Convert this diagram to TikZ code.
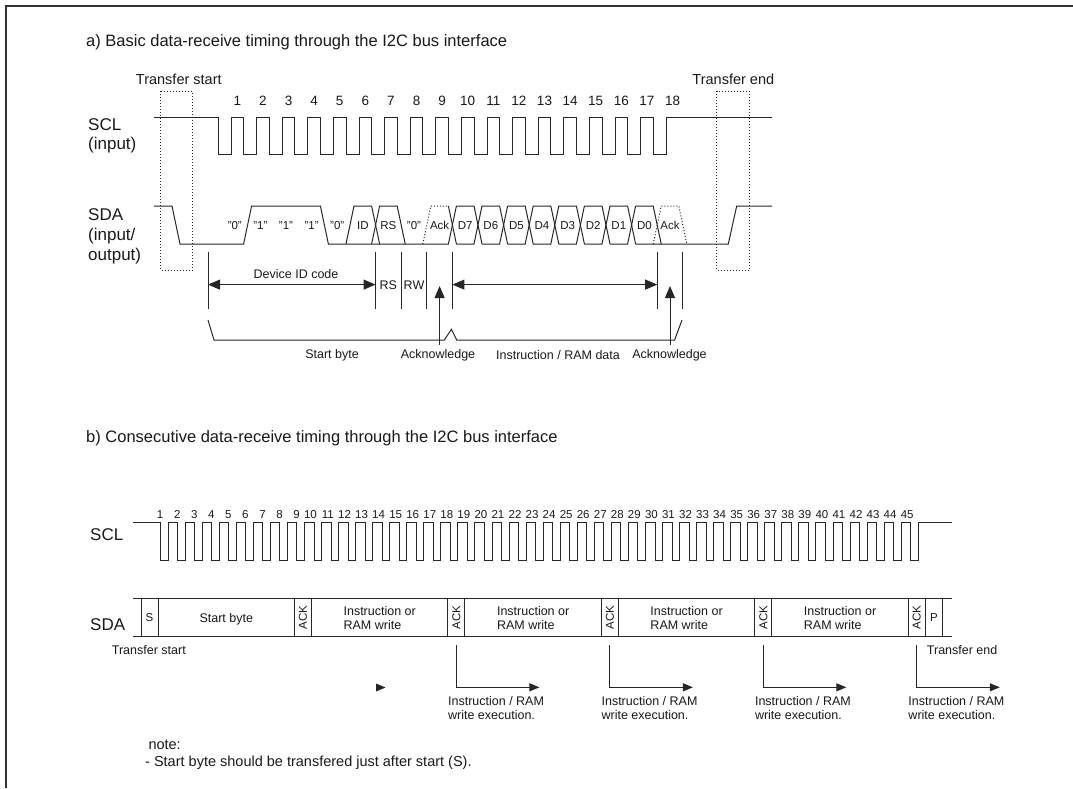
\documentclass[tikz,border=0pt]{standalone}
\usepackage{fontspec}
\setmainfont{Liberation Sans}
\usepackage{xcolor}
\usetikzlibrary{arrows.meta}
\tikzstyle{wave}=[-, draw=black!85, line width=1pt]
\tikzstyle{dot wave}=[-, draw=black!85, line width=1pt, dotted]
\tikzstyle{frame}=[-, draw=black!80, line width=1.5pt]
\tikzstyle{head}=[anchor=base west, inner sep=0pt, font=\fontsize{16.5}{19}\selectfont]
\tikzstyle{sig}=[anchor=base west, inner sep=0pt, font=\fontsize{17}{20}\selectfont]
\tikzstyle{num}=[anchor=base, inner sep=0pt, font=\fontsize{13.5}{16}\selectfont]
\tikzstyle{small num}=[anchor=base east, inner sep=0pt, font=\fontsize{11.5}{13}\selectfont]
\tikzstyle{bit}=[inner sep=0pt, font=\fontsize{11.5}{13}\selectfont]
\tikzstyle{lbl}=[inner sep=0pt, font=\fontsize{12.5}{14.5}\selectfont]
\tikzstyle{tag}=[anchor=base, inner sep=0pt, font=\fontsize{14.5}{17}\selectfont]
\tikzstyle{note}=[anchor=base west, inner sep=0pt, font=\fontsize{14.5}{17}\selectfont]
\tikzstyle{arrow edge}=[-{Triangle[length=12pt,width=10pt]}, draw=black!85, line width=1pt]
\tikzstyle{both edge}=[{Triangle[length=12pt,width=10pt]}-{Triangle[length=12pt,width=10pt]}, draw=black!85, line width=1pt]
\tikzstyle{exec edge}=[-{Triangle[length=10pt,width=8pt]}, draw=black!85, line width=1pt]
\pgfdeclarelayer{nodelayer}
\pgfdeclarelayer{edgelayer}
\pgfsetlayers{main,nodelayer,edgelayer}

\begin{document}
\begin{tikzpicture}[x=1pt, y=-1pt, text=black!90]
    	\useasboundingbox (0,0) rectangle (1073,788);
    	\begin{pgfonlayer}{nodelayer}
    		% part a
    		\node [style=head] (ta) at (86, 46) {a) Basic data-receive timing through the I2C bus interface};
    		\node [style=tag] (tstart) at (178.8, 84) {Transfer start};
    		\node [style=tag] (tend) at (733.3, 84) {Transfer end};
    		\node [style=sig] (scl) at (88, 130) {SCL};
    		\node [style=sig] (sclin) at (88, 149.5) {(input)};
    		\node [style=sig] (sda) at (88, 220) {SDA};
    		\node [style=sig] (sdain) at (88, 240) {(input/};
    		\node [style=sig] (sdaout) at (88, 260) {output)};
    		\foreach \k in {1,...,18}
    			\node [style=num] (n\k) at ({237.3+25.6*(\k-1)}, 105) {\k};
    		\foreach \t [count=\k from 0] in {"0","1","1","1","0",ID,RS,"0",Ack,D7,D6,D5,D4,D3,D2,D1,D0,Ack}
    			\node [style=bit] (b\k) at ({234.8+25.6*\k}, 225.5) {\t};
    		\node [style=lbl] (idcode) at (296, 274) {Device ID code};
    		\node [style=lbl] (rs) at (388.4, 285.5) {RS};
    		\node [style=lbl] (rw) at (414, 285.5) {RW};
    		\node [style=lbl] (sbyte) at (332, 355) {Start byte};
    		\node [style=lbl] (ackl) at (438, 355) {Acknowledge};
    		\node [style=lbl] (data) at (558, 355) {Instruction / RAM data};
    		\node [style=lbl] (ackr) at (669.5, 355) {Acknowledge};
    		\coordinate (idl) at (208, 284.6);
    		\coordinate (idr) at (375.6, 284.6);
    		\coordinate (dl) at (452.4, 284.6);
    		\coordinate (dr) at (657.2, 284.6);
    		\coordinate (a1) at (439.6, 345);
    		\coordinate (a1t) at (439.6, 286);
    		\coordinate (a2) at (670, 345);
    		\coordinate (a2t) at (670, 286);
    		% part b
    		\node [style=head] (tb) at (86, 442) {b) Consecutive data-receive timing through the I2C bus interface};
    		\node [style=sig] (sclb) at (90, 540) {SCL};
    		\node [style=sig] (sdab) at (90, 630) {SDA};
    		\foreach \k in {1,...,45}
    			\node [style=small num] (c\k) at ({146.5+17.05*\k}, 518.5) {\k};
    		\node [style=bit] (s) at ({141+17.05*0.5}, 617.5) {S};
    		\node [style=lbl] (sbyteb) at ({141+17.05*5}, 619.5) {Start byte};
    		\node [style=bit] (p) at ({141+17.05*46.5}, 617.5) {P};
    		\foreach \m [count=\i] in {9,18,27,36,45}
    			\node [style=bit, rotate=90] (ack\i) at ({141+17.05*(\m+0.5)}, 617.5) {ACK};
    		\foreach \m [count=\i] in {14,23,32,41}
    			\node [style=lbl, align=left] (ins\i) at ({141+17.05*\m}, 618) {Instruction or\\RAM write};
    		\foreach \m [count=\i] in {18,27,36,45} {
    			\coordinate (e\i) at ({141+17.05*(\m+0.5)}, 645);
    			\coordinate (f\i) at ({141+17.05*(\m+0.5)+83}, 687.3);
    			\node [style=lbl, align=left, anchor=north west] (x\i) at ({141+17.05*(\m+0.5)-8.5}, 696) {Instruction / RAM\\write execution.};
    		}
    		\node [style=lbl, anchor=base west] (tstartb) at (111.7, 654) {Transfer start};
    		\node [style=lbl, anchor=base west] (tendb) at (926.7, 654) {Transfer end};
    		\node [style=note] (note) at (148.3, 749) {note:};
    		\node [style=note] (notes) at (145, 766) {- Start byte should be transfered just after start (S).};
    	\end{pgfonlayer}
    	\begin{pgfonlayer}{edgelayer}
    		\draw [style=frame] (6, 788) -- (6, 6) -- (1073, 6);
    		% part a, SCL
    		\draw [style=wave] (154, 117) \foreach \k in {0,...,17} { -- ({218+25.6*\k}, 117) -- ({218+25.6*\k}, 154) -- ({231+25.6*\k}, 154) -- ({231+25.6*\k}, 117) } -- (772, 117);
    		% part a, SDA
    		\draw [style=wave] (154, 206) -- (172, 206) -- (180, 244) -- (243.6, 244) -- (251.6, 206) -- (320.4, 206) -- (328.4, 244) -- (448.4, 244) -- (456.4, 206);
    		\draw [style=wave] (346, 244) -- (354, 206) -- (371.6, 206) -- (379.6, 244);
    		\draw [style=wave] (371.6, 244) -- (379.6, 206) -- (397.2, 206) -- (405.2, 244);
    		\draw [style=dot wave] (422.8, 244) -- (430.8, 206) -- (448.4, 206);
    		\draw [style=wave] (448.4, 206) -- (456.4, 244);
    		\foreach \k in {0,...,7}
    			\draw [style=wave] ({456.4+25.6*\k}, 206) -- ({474+25.6*\k}, 206) -- ({482+25.6*\k}, 244);
    		\foreach \k in {0,...,6}
    			\draw [style=wave] ({456.4+25.6*\k}, 244) -- ({474+25.6*\k}, 244) -- ({482+25.6*\k}, 206);
    		\draw [style=wave] (635.6, 244) -- (728.3, 244) -- (736.7, 206) -- (772, 206);
    		\draw [style=dot wave] (653.2, 244) -- (661.2, 206) -- (678.8, 206) -- (686.8, 244);
    		\draw [style=dot wave] (160.7, 91) rectangle (192.3, 270);
    		\draw [style=dot wave] (716.7, 91) rectangle (749.3, 270);
    		% part a, fields
    		\foreach \x in {208,375.6,401.2,426.8,452.4,657.2,682.8}
    			\draw [style=wave] (\x, 252) -- (\x, 309);
    		\draw [style=both edge] (idl) to (idr);
    		\draw [style=both edge] (dl) to (dr);
    		\draw [style=arrow edge] (a1) to (a1t);
    		\draw [style=arrow edge] (a2) to (a2t);
    		\draw [style=wave] (208, 320) -- (214, 340) -- (444.3, 340) -- (451.4, 329.3) -- (456.8, 340) -- (674.6, 340) -- (682, 320);
    		% part b, SCL
    		\draw [style=wave] (133.3, 522.7) \foreach \k in {1,...,45} { -- ({143.5+17.05*\k}, 522.7) -- ({143.5+17.05*\k}, 560) -- ({151+17.05*\k}, 560) -- ({151+17.05*\k}, 522.7) } -- (951.7, 522.7);
    		% part b, SDA
    		\draw [style=wave] (132.7, 598.3) -- (951.7, 598.3);
    		\draw [style=wave] (132.7, 636.7) -- (951.7, 636.7);
    		\foreach \m in {0,1,9,10,18,19,27,28,36,37,45,46,47}
    			\draw [style=wave] ({141+17.05*\m}, 598.3) -- ({141+17.05*\m}, 636.7);
    		\foreach \i in {1,...,4}
    			\draw [style=exec edge] (e\i) |- (f\i);
    		\fill [black!85] (376, 683.5) -- (385.5, 687.5) -- (376, 691.5) -- cycle;
    	\end{pgfonlayer}
\end{tikzpicture}
\end{document}
